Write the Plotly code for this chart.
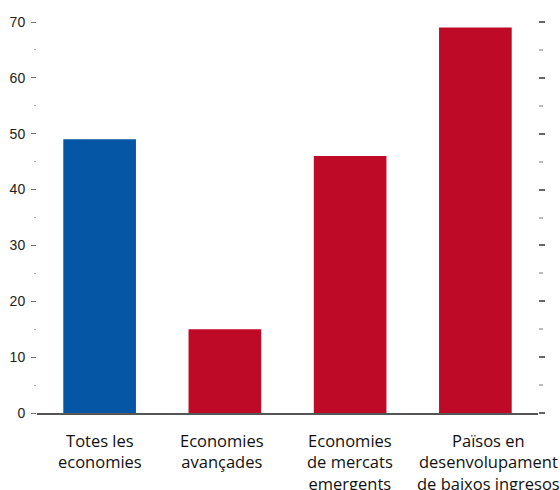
import plotly.graph_objects as go

categories = ["Totes les economies", "Economies avançades",
              "Economies de mercats emergents", "Països en desenvolupament de baixos ingresos"]
tick_labels = ["Totes les<br>economies", "Economies<br>avançades",
               "Economies<br>de mercats<br>emergents", "Països en<br>desenvolupament<br>de baixos ingresos"]
values = [49, 15, 46, 69]
colors = ["#0556A5", "#BF0A27", "#BF0A27", "#BF0A27"]
y_ticks = [0, 10, 20, 30, 40, 50, 60, 70]

fig = go.Figure()
fig.add_trace(go.Bar(x=categories, y=values, marker=dict(color=colors, line=dict(width=0)),
                     showlegend=False, hoverinfo="skip"))
fig.add_trace(go.Scatter(x=[categories[0]], y=[0], yaxis="y2", mode="markers",
                         marker=dict(opacity=0), showlegend=False, hoverinfo="skip"))

label_shifts = [0, -3, 0, 13]
for cat, txt, sh in zip(categories, tick_labels, label_shifts):
    fig.add_annotation(x=cat, y=0, yref="y", xref="x", text=txt, showarrow=False,
                       yanchor="top", yshift=-14, xshift=sh, align="center",
                       font=dict(family="Open Sans", size=16.5, color="#111111"))

fig.update_layout(
    width=560, height=490,
    margin=dict(l=37, r=22, t=22, b=77),
    paper_bgcolor="white", plot_bgcolor="white",
    bargap=0.42,
    xaxis=dict(showticklabels=False, range=[-0.5, 3.5], autorange=False,
               showline=True, linecolor="#555555", linewidth=1.5,
               ticks="", showgrid=False, automargin=False),
    yaxis=dict(range=[0, 70], tickvals=y_ticks, showgrid=False, zeroline=False,
               ticks="outside", ticklen=5, tickcolor="#777777", tickwidth=1,
               minor=dict(dtick=5, ticks="outside", ticklen=2, tickcolor="#aaaaaa"),
               tickfont=dict(family="Liberation Sans", size=14, color="#222222"),
               automargin=False, ticklabelstandoff=3),
    yaxis2=dict(range=[0, 70], overlaying="y", side="right", tickvals=y_ticks,
                showticklabels=False, showgrid=False, zeroline=False,
                ticks="outside", ticklen=6, tickcolor="#666666", tickwidth=1.5,
                minor=dict(dtick=5, ticks="outside", ticklen=4, tickcolor="#bbbbbb"),
                automargin=False),
)

fig.write_html("out.html", config={"displayModeBar": False},
               post_script="document.body.style.margin='0';document.body.style.overflow='hidden';")
